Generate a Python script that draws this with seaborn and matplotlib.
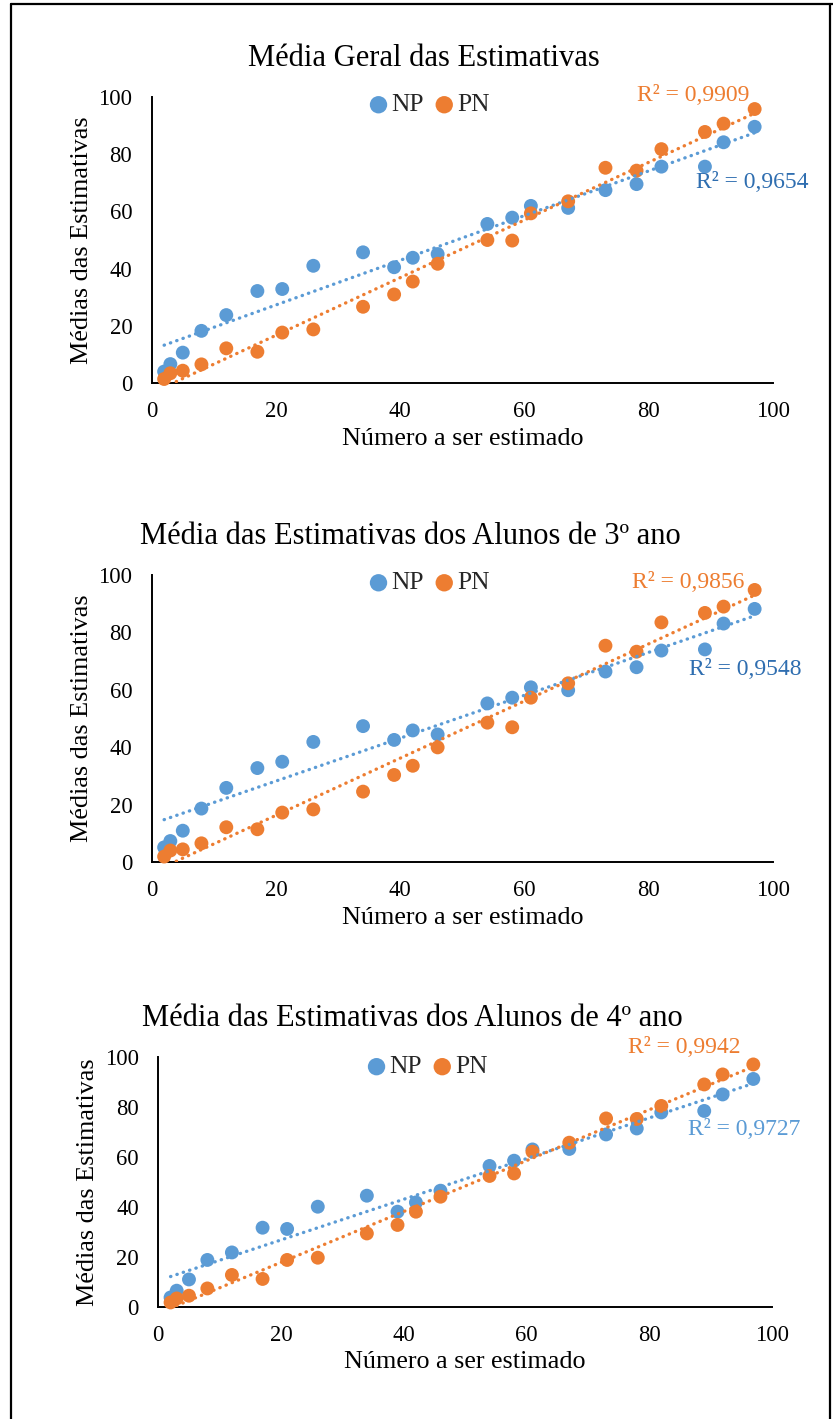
import numpy as np
import pandas as pd
import matplotlib
matplotlib.use("Agg")
import matplotlib.pyplot as plt
import seaborn as sns
from matplotlib.lines import Line2D

# ---------------- data ----------------
numbers = [2, 3, 5, 8, 12, 17, 21, 26, 34, 39, 42, 46, 54, 58, 61, 67, 73, 78, 82, 89, 92, 97]

geral_np = [4.1, 6.7, 10.7, 18.3, 23.8, 32.2, 32.9, 41.0, 45.7, 40.5, 43.8, 45.1,
            55.6, 57.8, 61.9, 61.2, 67.4, 69.5, 75.6, 75.6, 84.1, 89.5]
geral_pn = [1.5, 3.5, 4.4, 6.6, 12.2, 11.0, 17.7, 18.8, 26.7, 31.0, 35.5, 41.7,
            50.0, 49.8, 59.3, 63.5, 75.2, 74.2, 81.7, 87.7, 90.6, 95.7]

ano3_np = [5.2, 7.4, 11.0, 18.7, 25.9, 32.8, 35.0, 41.9, 47.4, 42.6, 45.9, 44.5,
           55.3, 57.3, 60.9, 59.9, 66.4, 67.9, 73.7, 74.1, 83.1, 88.2]
ano3_pn = [2.0, 4.1, 4.5, 6.6, 12.2, 11.5, 17.3, 18.4, 24.6, 30.4, 33.6, 40.0,
           48.6, 47.0, 57.3, 62.3, 75.4, 73.3, 83.5, 86.8, 89.0, 94.8]

ano4_np = [3.7, 6.4, 10.9, 18.7, 21.7, 31.6, 31.1, 40.0, 44.4, 38.0, 41.7, 46.4,
           56.3, 58.4, 62.9, 63.1, 68.9, 71.3, 77.7, 78.3, 84.9, 91.1]
ano4_pn = [1.7, 3.3, 4.4, 7.3, 12.7, 11.1, 18.7, 19.6, 29.3, 32.7, 38.0, 44.0,
           52.3, 53.3, 62.0, 65.6, 75.3, 75.1, 80.3, 88.9, 92.9, 96.9]

titles = ["Média Geral das Estimativas",
          "Média das Estimativas dos Alunos de 3º ano",
          "Média das Estimativas dos Alunos de 4º ano"]
r2_np = ["R² = 0,9654", "R² = 0,9548", "R² = 0,9727"]
r2_pn = ["R² = 0,9909", "R² = 0,9856", "R² = 0,9942"]
series_names = ["NP", "PN"]
x_label = "Número a ser estimado"
y_label = "Médias das Estimativas"
ticks = [0, 20, 40, 60, 80, 100]

# ---------------- style ----------------
sns.set_theme(style="white")
plt.rcParams["font.family"] = ["Liberation Serif", "DejaVu Serif"]

BLUE = "#5B9BD5"
ORANGE = "#ED7D31"
np_text_colors = ["#2F6EB0", "#2F6EB0", "#5B9BD5"]

W, H = 833, 1419
fig = plt.figure(figsize=(W / 100, H / 100), dpi=100)

# axes boxes in pixels: left, top(100), right(100), bottom(0)
boxes = [(151.7, 96.7, 773.3, 383.3),
         (151.7, 575.0, 773.3, 862.3),
         (158.3, 1056.7, 771.7, 1306.7)]
title_x = [0.438, 0.4155, 0.4136]
legend_pos = [(0.448, 0.971), (0.448, 0.972), (0.440, 0.959)]
pn_text_pos = [(78.0, 100.5), (77.2, 97.3), (76.5, 103.5)]
np_text_pos = [(87.5, 70.0), (86.5, 67.0), (86.4, 70.7)]

panels = [(geral_np, geral_pn), (ano3_np, ano3_pn), (ano4_np, ano4_pn)]

for i, ((l, t, r, b), (np_vals, pn_vals)) in enumerate(zip(boxes, panels)):
    ax = fig.add_axes([l / W, 1 - b / H, (r - l) / W, (b - t) / H])
    df = pd.DataFrame({"x": numbers, "NP": np_vals, "PN": pn_vals})

    sns.scatterplot(data=df, x="x", y="NP", color=BLUE, s=100, edgecolor="none",
                    label=series_names[0], ax=ax, zorder=3, clip_on=False)
    sns.scatterplot(data=df, x="x", y="PN", color=ORANGE, s=100, edgecolor="none",
                    label=series_names[1], ax=ax, zorder=3, clip_on=False)
    for col, c in (("NP", BLUE), ("PN", ORANGE)):
        sns.regplot(data=df, x="x", y=col, scatter=False, ci=None, ax=ax,
                    line_kws=dict(color=c, lw=2.4, linestyle=(0, (0.1, 1.9)),
                                  dash_capstyle="round", zorder=4))

    ax.set_xlim(0, 100)
    ax.set_ylim(0, 100)
    ax.set_xticks(ticks)
    ax.set_yticks(ticks)
    ax.tick_params(axis="both", length=0, labelsize=16.3, colors="black")
    ax.tick_params(axis="x", pad=13)
    ax.tick_params(axis="y", pad=14)
    for s in ("top", "right"):
        ax.spines[s].set_visible(False)
    for s in ("left", "bottom"):
        ax.spines[s].set_color("black")
        ax.spines[s].set_linewidth(1.4)
    ax.set_xlabel(x_label, fontsize=18.8, labelpad=4, color="black")
    ax.set_ylabel(y_label, fontsize=18.8, labelpad=4, color="black")
    ax.set_title(titles[i], fontsize=22, x=title_x[i], pad=22, color="black")

    ax.legend(loc="center", bbox_to_anchor=legend_pos[i], ncol=2, frameon=False,
              fontsize=18.4, handlelength=0.6, handletextpad=0.2,
              columnspacing=0.5, borderpad=0, markerscale=1.25)

    ax.text(*pn_text_pos[i], r2_pn[i], color=ORANGE, fontsize=17, ha="left",
            va="center", clip_on=False)
    ax.text(*np_text_pos[i], r2_np[i], color=np_text_colors[i], fontsize=17,
            ha="left", va="center", clip_on=False)

# outer frame
for (x0, y0, x1, y1) in [(10.7, 3.5, 10.7, H + 5), (10.7, 3.5, W + 5, 3.5),
                         (830.0, 3.5, 830.0, H + 5)]:
    fig.add_artist(Line2D([x0 / W, x1 / W], [1 - y0 / H, 1 - y1 / H],
                          color="black", lw=1.6, transform=fig.transFigure))

fig.savefig("out.png", dpi=100)
